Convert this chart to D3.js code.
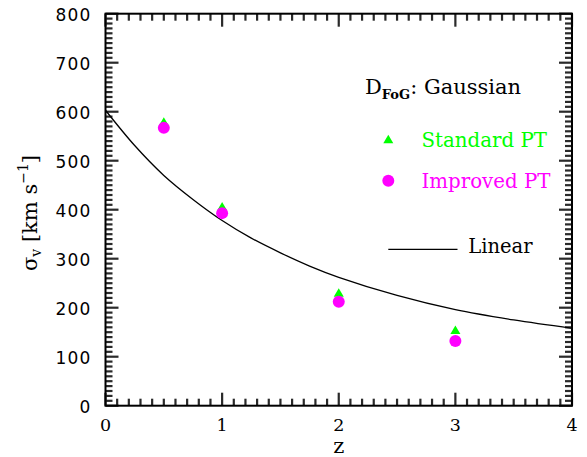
<!DOCTYPE html>
<html>
<head>
<meta charset="utf-8">
<script src="https://cdn.jsdelivr.net/npm/d3@7"></script>
<style>
  html, body { margin: 0; padding: 0; background: #fff; }
  svg { display: block; }
  text { font-family: "DejaVu Serif", serif; fill: #000; }
</style>
</head>
<body>
<svg id="chart" width="587" height="457"></svg>
<script>
// ---- data ----
const redshifts = [0.5, 1, 2, 3];
const standardPT = [580, 407, 231, 155];
const improvedPT = [567, 393, 212, 132];
const linearZ = [0, 0.25, 0.5, 0.75, 1, 1.25, 1.5, 1.75, 2, 2.5, 3, 3.5, 4];
const linearSigma = [603, 531, 470, 421, 378, 342, 312, 285, 262, 225, 196, 175, 158];
const xTicks = [0, 1, 2, 3, 4];
const yTicks = [0, 100, 200, 300, 400, 500, 600, 700, 800];
const legendLabels = ["Standard PT", "Improved PT", "Linear"];

// ---- layout ----
const svg = d3.select("#chart");
const L = 105.5, R = 572, T = 13.7, B = 405.7;
const x = d3.scaleLinear().domain([0, 4]).range([L, R]);
const y = d3.scaleLinear().domain([0, 800]).range([B, T]);
const green = "#00ff00", magenta = "#ff00ff";

const xMinor = d3.range(1, 40).filter(i => i % 10 !== 0).map(i => i / 10);
const yMinor = d3.range(1, 80).filter(i => i % 10 !== 0).map(i => i * 10);

// ticks as thin filled rectangles
const tickFill = "#2a2a2a", tw = 2.2;
const tg = svg.append("g").attr("fill", tickFill);
function addX(vals, len) {
  tg.append("g").selectAll("rect").data(vals).join("rect")
    .attr("x", d => x(d) - tw / 2).attr("y", B - len).attr("width", tw).attr("height", len).attr("fill", tickFill);
  tg.append("g").selectAll("rect").data(vals).join("rect")
    .attr("x", d => x(d) - tw / 2).attr("y", T).attr("width", tw).attr("height", len).attr("fill", tickFill);
}
function addY(vals, len) {
  tg.append("g").selectAll("rect").data(vals).join("rect")
    .attr("y", d => y(d) - tw / 2).attr("x", L).attr("height", tw).attr("width", len).attr("fill", tickFill);
  tg.append("g").selectAll("rect").data(vals).join("rect")
    .attr("y", d => y(d) - tw / 2).attr("x", R - len).attr("height", tw).attr("width", len).attr("fill", tickFill);
}
addX(xMinor, 7); addX(xTicks, 13);
addY(yMinor, 7); addY(yTicks, 13);

// frame
svg.append("rect").attr("x", L).attr("y", T).attr("width", R - L).attr("height", B - T)
  .attr("fill", "none").attr("stroke", "#000").attr("stroke-width", 2);

// tick labels
svg.append("g").selectAll("text").data(xTicks).join("text")
  .attr("x", d => x(d)).attr("y", B + 25).attr("text-anchor", "middle")
  .attr("font-size", 17.5).text(d3.format("d"));
svg.append("g").selectAll("text").data(yTicks).join("text")
  .attr("x", L - 14).attr("y", d => y(d) + 7).attr("text-anchor", "end")
  .attr("font-size", 17).attr("letter-spacing", 1.2)
  .style("font-family", "DejaVu Sans").text(d3.format("d"));

// linear curve
const line = d3.line().x((d, i) => x(linearZ[i])).y(d => y(d)).curve(d3.curveCatmullRom);
svg.append("path").attr("d", line(linearSigma)).attr("fill", "none")
  .attr("stroke", "#000").attr("stroke-width", 1.3);

// markers
const tri = "M0,-4.2L5,4.2L-5,4.2Z";
svg.append("g").selectAll("path").data(standardPT).join("path")
  .attr("d", tri).attr("fill", green)
  .attr("transform", (d, i) => `translate(${x(redshifts[i])},${y(d)})`);
svg.append("g").selectAll("circle").data(improvedPT).join("circle")
  .attr("cx", (d, i) => x(redshifts[i])).attr("cy", d => y(d)).attr("r", 6)
  .attr("fill", magenta);

// legend
const t1 = svg.append("text").attr("x", 365).attr("y", 93.5).attr("font-size", 21);
t1.append("tspan").text("D");
t1.append("tspan").attr("font-size", 13).attr("dy", 5.5).attr("font-weight", "bold").text("FoG");
t1.append("tspan").attr("dy", -5.5).text(": Gaussian");

svg.append("path").attr("d", tri).attr("fill", green).attr("transform", "translate(388.3,139)");
svg.append("text").attr("x", 421.5).attr("y", 147.3).attr("font-size", 19.8)
  .style("fill", green).text(legendLabels[0]);
svg.append("circle").attr("cx", 388.3).attr("cy", 180.7).attr("r", 6).attr("fill", magenta);
svg.append("text").attr("x", 421.5).attr("y", 188.3).attr("font-size", 19.8)
  .style("fill", magenta).text(legendLabels[1]);
svg.append("line").attr("x1", 388.3).attr("x2", 457.5).attr("y1", 249.3).attr("y2", 249.3)
  .attr("stroke", "#000").attr("stroke-width", 1.3);
svg.append("text").attr("x", 468.3).attr("y", 252.5).attr("font-size", 19.5).text(legendLabels[2]);

// axis titles
svg.append("text").attr("x", x(2)).attr("y", 453).attr("text-anchor", "middle")
  .attr("font-size", 21).text("z");
const yt = svg.append("text").attr("transform", "translate(37,213) rotate(-90)")
  .attr("text-anchor", "middle").attr("font-size", 21);
yt.append("tspan").text("σ");
yt.append("tspan").attr("font-size", 14).attr("dy", 4).text("v");
yt.append("tspan").attr("dy", -4).text(" [km s");
yt.append("tspan").attr("font-size", 14).attr("dy", -9).text("−1");
yt.append("tspan").attr("dy", 9).text("]");
</script>
</body>
</html>
